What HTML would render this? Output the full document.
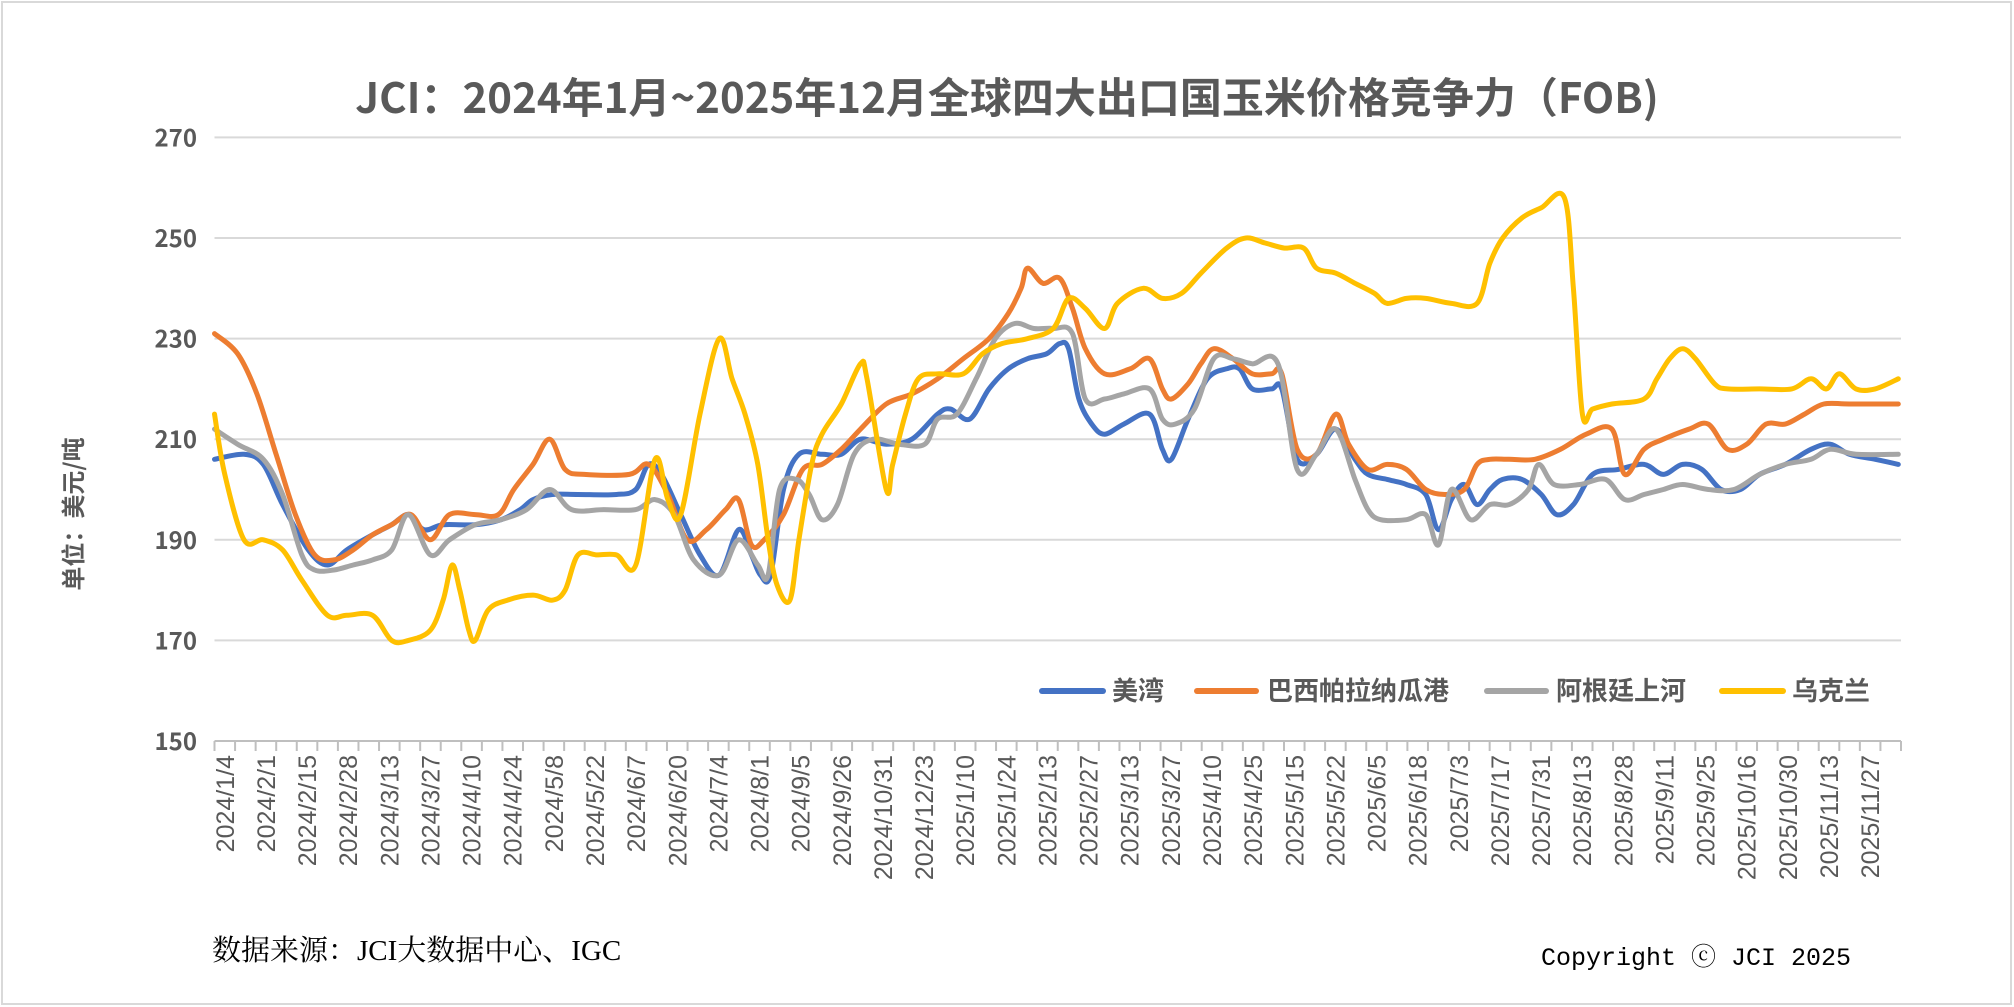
<!DOCTYPE html>
<html><head><meta charset="utf-8"><style>
html,body{margin:0;padding:0;background:#fff;}
svg{display:block;}
</style></head><body>
<svg id="c" width="2014" height="1007" viewBox="0 0 2014 1007" xmlns="http://www.w3.org/2000/svg">
<rect x="2" y="2" width="2009" height="1002" fill="#fff" stroke="#d9d9d9" stroke-width="2"/>
<text x="1007" y="113" text-anchor="middle" font-family="Noto Sans CJK SC, sans-serif" font-weight="bold" font-size="42" fill="#595959">JCI：2024年1月~2025年12月全球四大出口国玉米价格竞争力（FOB)</text>
<g id="grid"></g>
<g id="series" fill="none" stroke-width="5" stroke-linejoin="round" stroke-linecap="round"></g>
<text transform="translate(82,514) rotate(-90)" text-anchor="middle" font-family="Noto Sans CJK SC, sans-serif" font-weight="bold" font-size="24" fill="#595959">单位：美元/吨</text>
<g font-family="Noto Sans CJK SC, sans-serif" font-weight="bold" font-size="26" fill="#595959" stroke-linecap="round">
<line x1="1042" y1="691" x2="1103" y2="691" stroke="#4472C4" stroke-width="6"/><text x="1112" y="700">美湾</text>
<line x1="1197" y1="691" x2="1256" y2="691" stroke="#ED7D31" stroke-width="6"/><text x="1267" y="700">巴西帕拉纳瓜港</text>
<line x1="1487" y1="691" x2="1546" y2="691" stroke="#A5A5A5" stroke-width="6"/><text x="1556" y="700">阿根廷上河</text>
<line x1="1722" y1="691" x2="1783" y2="691" stroke="#FFC000" stroke-width="6"/><text x="1792" y="700">乌克兰</text>
</g>
<text x="212" y="960" font-family="Liberation Serif, Noto Serif CJK SC, serif" font-size="29" fill="#000">数据来源：JCI大数据中心、IGC</text>
<text x="1541" y="965" font-family="Liberation Mono, Noto Serif CJK SC, monospace" font-size="25" fill="#000">Copyright ⓒ JCI 2025</text>
</svg>
<script>
var S=1.2844,NS="http://www.w3.org/2000/svg";
function Y(v){return 137.4+(270-v)*5.03;}
function el(t,a,p){var e=document.createElementNS(NS,t);for(var k in a)e.setAttribute(k,a[k]);p.appendChild(e);return e;}
var g=document.getElementById('grid');
var L=214.5,R=1901;
for(var v=150;v<=270;v+=20){
 el('line',{x1:L,x2:R,y1:Y(v),y2:Y(v),stroke:v==150?'#bfbfbf':'#d9d9d9','stroke-width':2},g);
 var t=el('text',{x:197,y:Y(v)+9,'text-anchor':'end','font-family':'Noto Sans CJK SC, sans-serif','font-weight':'bold','font-size':24,fill:'#595959'},g);t.textContent=v;
}
var labels=["2024/1/4","2024/2/1","2024/2/15","2024/2/28","2024/3/13","2024/3/27","2024/4/10","2024/4/24","2024/5/8","2024/5/22","2024/6/7","2024/6/20","2024/7/4","2024/8/1","2024/9/5","2024/9/26","2024/10/31","2024/12/23","2025/1/10","2025/1/24","2025/2/13","2025/2/27","2025/3/13","2025/3/27","2025/4/10","2025/4/25","2025/5/15","2025/5/22","2025/6/5","2025/6/18","2025/7/3","2025/7/17","2025/7/31","2025/8/13","2025/8/28","2025/9/11","2025/9/25","2025/10/16","2025/10/30","2025/11/13","2025/11/27"];
var step=(R-L)/82;
for(var i=0;i<=82;i++){var x=L+i*step;el('line',{x1:x,x2:x,y1:Y(150),y2:Y(150)+10,stroke:'#bfbfbf','stroke-width':2},g);}
labels.forEach(function(s,i){var x=L+step*(2*i+0.5)+9;var t=el('text',{transform:'translate('+x+','+(Y(150)+14)+') rotate(-90)','text-anchor':'end','font-family':'Liberation Sans, sans-serif','font-size':25,fill:'#595959'},g);t.textContent=s;});
var data={
'#4472C4':[167,206,190,207,205,205,220,197,240,188,255,185,270,188,290,191,305,193,318,195,330,192,345,193,370,193,390,194,405,196,415,198,430,199,450,199,480,199,495,200,505,205,515,203,530,195,545,187,560,183,575,192,585,187,592,183,600,183,610,200,622,207,640,207,655,207,670,210,690,209,710,210,730,215,740,216,755,214,770,220,785,224,800,226,815,227,825,229,832,228,840,218,850,213,860,211,875,213,895,215,905,208,912,206,925,214,940,222,955,224,965,224,975,220,990,220,998,220,1010,206,1025,207,1040,212,1055,206,1065,203,1080,202,1095,201,1110,199,1120,192,1130,198,1140,201,1150,197,1160,200,1170,202,1185,202,1200,199,1212,195,1225,197,1240,203,1260,204,1280,205,1295,203,1310,205,1325,204,1340,200,1355,200,1370,203,1390,205,1410,208,1425,209,1440,207,1460,206,1478,205],
'#ED7D31':[167,231,185,227,200,219,215,207,230,195,245,187,260,186,275,188,290,191,305,193,320,195,335,190,350,195,370,195,388,195,400,200,415,205,428,210,440,204,455,203,490,203,505,205,520,199,535,190,550,192,565,196,575,198,585,189,595,190,610,195,625,204,640,205,655,208,670,212,690,217,710,219,730,222,750,226,770,230,785,235,795,240,800,244,812,241,825,242,835,236,845,228,860,223,880,224,895,226,905,220,912,218,925,221,935,225,945,228,960,226,975,223,990,223,998,223,1010,208,1025,207,1040,215,1050,209,1065,204,1080,205,1095,204,1110,200,1125,199,1140,200,1150,205,1160,206,1175,206,1195,206,1215,208,1235,211,1255,212,1265,203,1280,208,1295,210,1315,212,1330,213,1345,208,1360,209,1375,213,1390,213,1405,215,1420,217,1440,217,1478,217],
'#A5A5A5':[167,212,185,209,205,206,220,199,235,187,245,184,260,184,275,185,290,186,305,188,318,195,335,187,350,190,370,193,390,194,410,196,428,200,445,196,470,196,495,196,510,198,525,195,540,186,560,183,575,190,590,185,598,183,607,200,620,202,630,199,640,194,652,197,665,207,680,210,700,209,720,209,730,214,745,215,760,222,775,230,790,233,805,232,820,232,835,231,845,218,860,218,875,219,895,220,905,214,915,213,930,216,945,226,960,226,975,225,995,225,1010,204,1025,207,1040,212,1055,202,1065,196,1075,194,1095,194,1110,195,1120,189,1130,200,1145,194,1160,197,1175,197,1190,200,1198,205,1210,201,1230,201,1250,202,1265,198,1280,199,1295,200,1310,201,1330,200,1350,200,1370,203,1390,205,1410,206,1425,208,1445,207,1478,207],
'#FFC000':[167,215,175,203,190,190,205,190,220,188,235,182,255,175,270,175,290,175,305,170,318,170,335,172,345,178,352,185,358,180,365,172,370,170,380,176,395,178,415,179,430,178,440,180,450,187,465,187,480,187,495,185,510,206,520,198,530,195,545,215,560,230,570,222,580,215,590,205,598,190,605,181,615,178,622,190,632,205,640,211,655,217,670,225,675,222,690,200,695,205,705,215,715,222,730,223,750,223,765,227,780,229,800,230,820,232,832,238,845,236,860,232,870,237,890,240,905,238,920,239,935,243,955,248,970,250,985,249,1000,248,1015,248,1025,244,1040,243,1055,241,1070,239,1080,237,1095,238,1110,238,1130,237,1150,237,1160,245,1170,250,1185,254,1200,256,1218,258,1225,240,1232,215,1240,216,1255,217,1280,218,1290,222,1300,226,1310,228,1320,226,1335,221,1345,220,1370,220,1395,220,1410,222,1422,220,1432,223,1445,220,1460,220,1478,222]
};
var sg=document.getElementById('series');
Object.keys(data).forEach(function(c){
 var a=data[c],p=[];
 for(var i=0;i<a.length;i+=2)p.push([a[i]*S,Y(a[i+1])]);
 var d='M'+p[0][0].toFixed(1)+','+p[0][1].toFixed(1);
 for(var i=0;i<p.length-1;i++){
  var p0=p[Math.max(0,i-1)],p1=p[i],p2=p[i+1],p3=p[Math.min(p.length-1,i+2)],k=1/6;
  d+='C'+(p1[0]+(p2[0]-p0[0])*k).toFixed(1)+','+(p1[1]+(p2[1]-p0[1])*k).toFixed(1)+' '+(p2[0]-(p3[0]-p1[0])*k).toFixed(1)+','+(p2[1]-(p3[1]-p1[1])*k).toFixed(1)+' '+p2[0].toFixed(1)+','+p2[1].toFixed(1);
 }
 el('path',{d:d,stroke:c},sg);
});
</script>
</body></html>
